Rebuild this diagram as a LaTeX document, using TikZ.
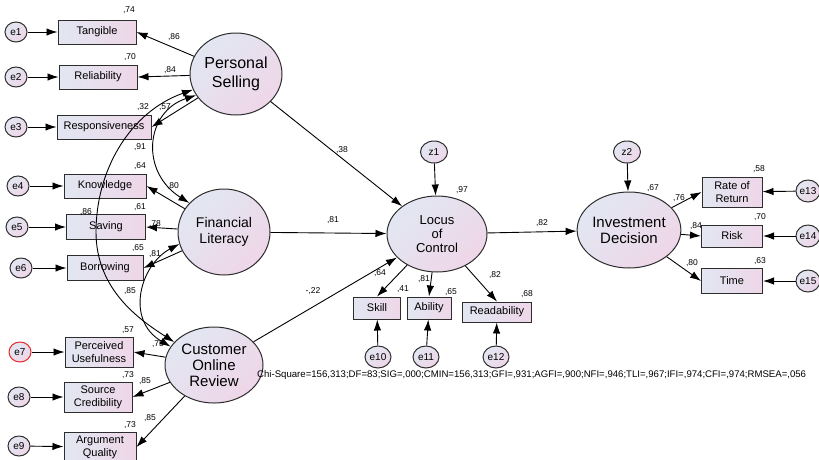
\documentclass[tikz,border=0pt]{standalone}
\usepackage{fontspec}
\setmainfont{Liberation Sans}
\usetikzlibrary{arrows.meta,shapes.geometric}

\definecolor{lavc}{RGB}{226,231,242}
\definecolor{pinkc}{RGB}{238,214,232}
\definecolor{bordc}{RGB}{45,45,45}
\definecolor{redc}{RGB}{232,40,40}

\tikzset{
  obs/.style={draw=bordc, line width=1pt, left color=lavc, right color=pinkc,
    align=center, inner sep=0pt, font=\fontsize{11}{13}\selectfont},
  lat/.style={ellipse, draw=bordc, line width=1pt, top color=lavc, bottom color=pinkc,
    shading angle=45, align=center, inner sep=0pt},
  err/.style={ellipse, draw=bordc, line width=1pt, top color=lavc, bottom color=pinkc,
    shading angle=45, inner sep=0pt, minimum width=22pt, minimum height=20pt,
    font=\fontsize{10}{12}\selectfont},
  est/.style={inner sep=0pt, font=\fontsize{8.5}{9}\selectfont},
  reg/.style={-{Latex[length=11pt,width=7.5pt]}, line width=0.9pt},
  cov/.style={{Latex[length=11pt,width=7.5pt]}-{Latex[length=11pt,width=7.5pt]}, line width=0.9pt},
}

\begin{document}
\begin{tikzpicture}[x=1pt,y=1pt]
    \useasboundingbox (0,0) rectangle (819,-459);
    \clip (0,0) rectangle (819,-459);

    % latent variables
    \node[lat, minimum width=92pt, minimum height=82pt, font=\fontsize{16}{19}\selectfont] (ps) at (236,-74) {Personal\\Selling};
    \node[lat, minimum width=92pt, minimum height=86pt, font=\fontsize{14}{16}\selectfont] (fl) at (224,-232) {Financial\\Literacy};
    \node[lat, minimum width=98pt, minimum height=76pt, font=\fontsize{15}{16}\selectfont] (cor) at (214,-365) {Customer\\Online\\Review};
    \node[lat, minimum width=100pt, minimum height=76pt, font=\fontsize{13}{14}\selectfont] (loc) at (437,-234) {Locus\\of\\Control};
    \node[lat, minimum width=92pt, minimum height=76pt, font=\fontsize{15}{16}\selectfont] (id) at (629,-230) {Investment\\Decision};

    % observed variables
    \node[obs, minimum width=78pt, minimum height=24pt] (tang) at (97,-32) {Tangible};
    \node[obs, minimum width=78pt, minimum height=24pt] (reli) at (98,-77) {Reliability};
    \node[obs, minimum width=94pt, minimum height=24pt] (resp) at (104,-127) {Responsiveness};
    \node[obs, minimum width=82pt, minimum height=24pt] (know) at (105,-186) {Knowledge};
    \node[obs, minimum width=79pt, minimum height=25pt] (sav) at (106,-227) {Saving};
    \node[obs, minimum width=76pt, minimum height=25pt] (borr) at (105,-268) {Borrowing};
    \node[obs, minimum width=68pt, minimum height=30pt] (perc) at (99,-352) {Perceived\\Usefulness};
    \node[obs, minimum width=68pt, minimum height=30pt] (sour) at (98,-397) {Source\\Credibility};
    \node[obs, minimum width=72pt, minimum height=30pt] (argu) at (100,-447) {Argument\\Quality};
    \node[obs, minimum width=47pt, minimum height=22pt] (skill) at (377,-308) {Skill};
    \node[obs, minimum width=44pt, minimum height=22pt] (abil) at (429,-308) {Ability};
    \node[obs, minimum width=69pt, minimum height=20pt] (read) at (497,-312) {Readability};
    \node[obs, minimum width=60pt, minimum height=30pt] (rate) at (732,-192) {Rate of\\Return};
    \node[obs, minimum width=61pt, minimum height=22pt] (risk) at (732,-236) {Risk};
    \node[obs, minimum width=61pt, minimum height=25pt] (time) at (732,-281) {Time};

    % estimates
    \foreach [count=\i] \x/\y/\t in {129/-10/{,74}, 130/-57/{,70}, 143/-107/{,32}, 140/-166/{,64},
        140/-207/{,61}, 138/-248/{,65}, 128/-330/{,57}, 128/-375/{,73}, 130/-425/{,73},
        174/-37/{,86}, 170/-70/{,84}, 165/-107/{,57}, 173/-186/{,80}, 155/-224/{,78},
        155/-254/{,81}, 158/-344/{,75}, 145/-381/{,85}, 150/-418/{,85},
        140/-147/{,91}, 86/-212/{,86}, 130/-291/{,85},
        342/-150/{,38}, 333/-220/{,81}, 313/-291/{-,22}, 542/-223/{,82},
        462/-190/{,97}, 380/-273/{,64}, 403/-289/{,41}, 424/-279/{,81}, 451/-292/{,65},
        495/-275/{,82}, 527/-294/{,68},
        653/-188/{,67}, 679/-198/{,76}, 759/-169/{,58}, 696/-226/{,84}, 760/-217/{,70},
        692/-263/{,80}, 760/-261/{,63}} {
      \node[est] (est\i) at (\x,\y) {\t};
    }

    % error terms
    \foreach \e/\x/\y/\b/\c in {1/16/-32/tang/bordc, 2/16/-77/reli/bordc, 3/16/-127/resp/bordc,
        4/18/-186/know/bordc, 5/17/-227/sav/bordc, 6/21/-268/borr/bordc,
        7/20/-352/perc/redc, 8/19/-397/sour/bordc, 9/19/-446/argu/bordc} {
      \node[err, draw=\c] (e\e) at (\x,\y) {e\e};
      \draw[reg] (e\e) -- (\b);
    }
    \foreach \e/\x/\b in {10/378/skill, 11/426/abil, 12/496/read} {
      \node[err, minimum width=26pt, minimum height=22pt] (e\e) at (\x,-357) {e\e};
      \draw[reg] (e\e) -- (\b);
    }
    \foreach \e/\y/\b in {13/-191/rate, 14/-236/risk, 15/-281/time} {
      \node[err, minimum width=24pt, minimum height=22pt] (e\e) at (808,\y) {e\e};
      \draw[reg] (e\e) -- (\b);
    }
    \node[err, minimum width=27pt, minimum height=22pt] (z1) at (434,-152) {z1};
    \node[err, minimum width=27pt, minimum height=22pt] (z2) at (627,-152) {z2};

    % measurement paths
    \foreach \b in {tang, reli, resp} \draw[reg] (ps) -- (\b.east);
    \foreach \b in {know, sav, borr} \draw[reg] (fl) -- (\b.east);
    \foreach \b in {perc, sour, argu} \draw[reg] (cor) -- (\b.east);
    \foreach \b in {skill, abil, read} \draw[reg] (loc) -- (\b.north);
    \foreach \b in {rate, risk, time} \draw[reg] (id) -- (\b.west);

    % structural paths
    \draw[reg] (ps) -- (loc);
    \draw[reg] (fl) -- (loc);
    \draw[reg] (cor) -- (loc);
    \draw[reg] (loc) -- (id);
    \draw[reg] (z1) -- (loc);
    \draw[reg] (z2) -- (id);

    % covariances
    \draw[cov] (ps.200) .. controls (130,-112) and (96,-170) .. (96,-232)
      .. controls (96,-290) and (140,-320) .. (cor.150);
    \draw[cov] (ps.208) .. controls (145,-112) and (140,-172) .. (fl.140);
    \draw[cov] (fl.195) .. controls (140,-265) and (125,-320) .. (cor.157);

    \node[est, anchor=west, font=\fontsize{9.6}{11}\selectfont] (fit) at (257,-375) {Chi-Square=156,313;DF=83;SIG=,000;CMIN=156,313;GFI=,931;AGFI=,900;NFI=,946;TLI=,967;IFI=,974;CFI=,974;RMSEA=,056};
\end{tikzpicture}
\end{document}
